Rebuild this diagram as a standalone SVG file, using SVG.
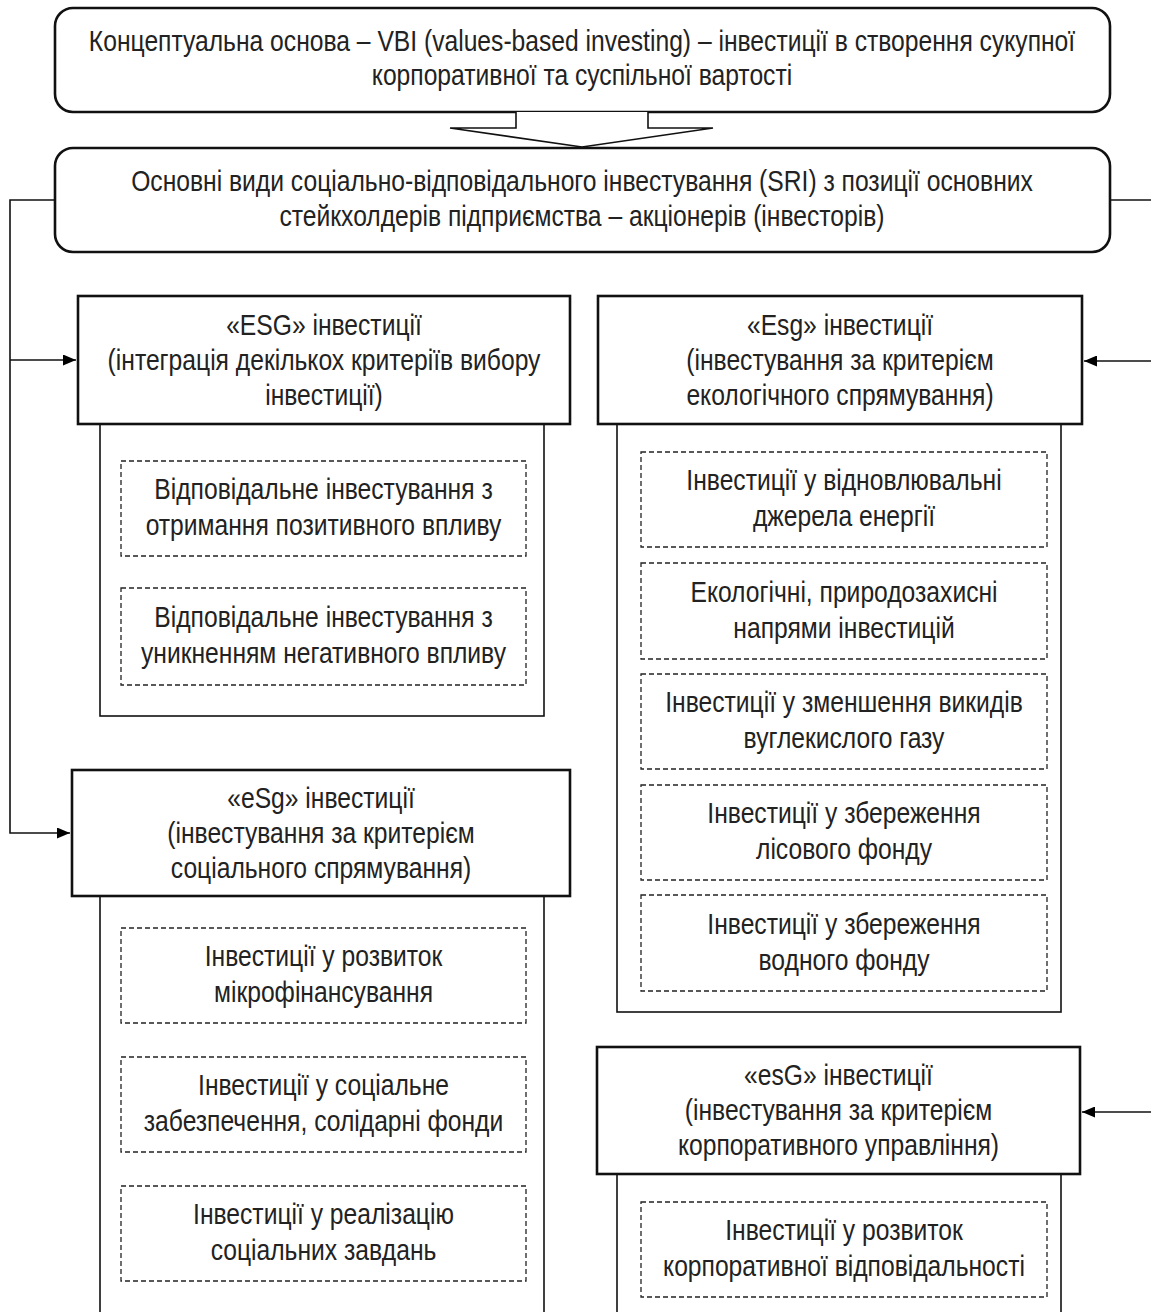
<svg xmlns="http://www.w3.org/2000/svg" width="1151" height="1312" viewBox="0 0 1151 1312">
<defs>
<style>
.rb{fill:#fff;stroke:#111;stroke-width:2.6}
.hb{fill:#fff;stroke:#111;stroke-width:2.6}
.ct{fill:#fff;stroke:#111;stroke-width:1.6}
.db{fill:none;stroke:#222;stroke-width:1.3;stroke-dasharray:5 3}
.ln{fill:none;stroke:#111;stroke-width:1.6}
text{font-family:"Liberation Sans",Arial,sans-serif;font-size:29px;fill:#222;text-anchor:middle}
</style>
<marker id="ah" viewBox="0 0 13 11" refX="13" refY="5.5" markerWidth="13" markerHeight="11" markerUnits="userSpaceOnUse" orient="auto">
<path d="M0,0 L13,5.5 L0,11 z" fill="#000"/>
</marker>
</defs>
<rect width="1151" height="1312" fill="#fff"/>

<g id="connectors">
<polyline class="ln" points="55,200 10,200 10,833 70,833" marker-end="url(#ah)"/>
<line class="ln" x1="10" y1="360" x2="76" y2="360" marker-end="url(#ah)"/>
<line class="ln" x1="1110" y1="200" x2="1151" y2="200"/>
<line class="ln" x1="1151" y1="361" x2="1084" y2="361" marker-end="url(#ah)"/>
<line class="ln" x1="1151" y1="1112" x2="1082" y2="1112" marker-end="url(#ah)"/>
</g>

<g id="vbi">
<rect class="rb" x="55" y="8" width="1055" height="104" rx="18"/>
<text transform="matrix(0.85 0 0 1 582 0)" x="0" y="51">Концептуальна основа – VBI (values-based investing) – інвестиції в створення сукупної</text>
<text transform="matrix(0.85 0 0 1 582 0)" x="0" y="85">корпоративної та суспільної вартості</text>
</g>

<g id="block-arrow">
<polygon points="516,112 516,128 450,128 582,147 713,128 648,128 648,112" fill="#fff" stroke="none"/>
<polyline points="516,112 516,128 450,128 582,147 713,128 648,128 648,112" fill="none" stroke="#111" stroke-width="1.6"/>
</g>

<g id="sri">
<rect class="rb" x="55" y="148" width="1055" height="104" rx="18"/>
<text transform="matrix(0.85 0 0 1 582 0)" x="0" y="191">Основні види соціально-відповідального інвестування (SRI) з позиції основних</text>
<text transform="matrix(0.85 0 0 1 582 0)" x="0" y="226">стейкхолдерів підприємства – акціонерів (інвесторів)</text>
</g>

<g id="esg-all">
<rect class="ct" x="100" y="424" width="444" height="292"/>
<rect class="hb" x="78" y="296" width="492" height="128"/>
<text transform="matrix(0.85 0 0 1 324 0)" x="0" y="335">«ESG» інвестиції</text>
<text transform="matrix(0.85 0 0 1 324 0)" x="0" y="370">(інтеграція декількох критеріїв вибору</text>
<text transform="matrix(0.85 0 0 1 324 0)" x="0" y="405">інвестиції)</text>
</g>
<g id="esg-1">
<rect class="db" x="121" y="461" width="405" height="95"/>
<text transform="matrix(0.85 0 0 1 323.5 0)" x="0" y="499">Відповідальне інвестування з</text>
<text transform="matrix(0.85 0 0 1 323.5 0)" x="0" y="535">отримання позитивного впливу</text>
</g>
<g id="esg-2">
<rect class="db" x="121" y="588" width="405" height="97"/>
<text transform="matrix(0.85 0 0 1 323.5 0)" x="0" y="627">Відповідальне інвестування з</text>
<text transform="matrix(0.85 0 0 1 323.5 0)" x="0" y="663">уникненням негативного впливу</text>
</g>

<g id="env">
<rect class="ct" x="617" y="424" width="444" height="588"/>
<rect class="hb" x="598" y="296" width="484" height="128"/>
<text transform="matrix(0.85 0 0 1 840 0)" x="0" y="335">«Esg» інвестиції</text>
<text transform="matrix(0.85 0 0 1 840 0)" x="0" y="370">(інвестування за критерієм</text>
<text transform="matrix(0.85 0 0 1 840 0)" x="0" y="405">екологічного спрямування)</text>
</g>
<g id="env-1">
<rect class="db" x="641" y="452" width="406" height="95"/>
<text transform="matrix(0.85 0 0 1 844 0)" x="0" y="490">Інвестиції у відновлювальні</text>
<text transform="matrix(0.85 0 0 1 844 0)" x="0" y="526">джерела енергії</text>
</g>
<g id="env-2">
<rect class="db" x="641" y="563" width="406" height="96"/>
<text transform="matrix(0.85 0 0 1 844 0)" x="0" y="602">Екологічні, природозахисні</text>
<text transform="matrix(0.85 0 0 1 844 0)" x="0" y="638">напрями інвестицій</text>
</g>
<g id="env-3">
<rect class="db" x="641" y="674" width="406" height="95"/>
<text transform="matrix(0.85 0 0 1 844 0)" x="0" y="712">Інвестиції у зменшення викидів</text>
<text transform="matrix(0.85 0 0 1 844 0)" x="0" y="748">вуглекислого газу</text>
</g>
<g id="env-4">
<rect class="db" x="641" y="785" width="406" height="95"/>
<text transform="matrix(0.85 0 0 1 844 0)" x="0" y="823">Інвестиції у збереження</text>
<text transform="matrix(0.85 0 0 1 844 0)" x="0" y="859">лісового фонду</text>
</g>
<g id="env-5">
<rect class="db" x="641" y="895" width="406" height="96"/>
<text transform="matrix(0.85 0 0 1 844 0)" x="0" y="934">Інвестиції у збереження</text>
<text transform="matrix(0.85 0 0 1 844 0)" x="0" y="970">водного фонду</text>
</g>

<g id="soc">
<rect class="ct" x="100" y="896" width="444" height="430"/>
<rect class="hb" x="72" y="770" width="498" height="126"/>
<text transform="matrix(0.85 0 0 1 321 0)" x="0" y="808">«eSg» інвестиції</text>
<text transform="matrix(0.85 0 0 1 321 0)" x="0" y="843">(інвестування за критерієм</text>
<text transform="matrix(0.85 0 0 1 321 0)" x="0" y="878">соціального спрямування)</text>
</g>
<g id="soc-1">
<rect class="db" x="121" y="928" width="405" height="95"/>
<text transform="matrix(0.85 0 0 1 323.5 0)" x="0" y="966">Інвестиції у розвиток</text>
<text transform="matrix(0.85 0 0 1 323.5 0)" x="0" y="1002">мікрофінансування</text>
</g>
<g id="soc-2">
<rect class="db" x="121" y="1057" width="405" height="95"/>
<text transform="matrix(0.85 0 0 1 323.5 0)" x="0" y="1095">Інвестиції у соціальне</text>
<text transform="matrix(0.85 0 0 1 323.5 0)" x="0" y="1131">забезпечення, солідарні фонди</text>
</g>
<g id="soc-3">
<rect class="db" x="121" y="1186" width="405" height="95"/>
<text transform="matrix(0.85 0 0 1 323.5 0)" x="0" y="1224">Інвестиції у реалізацію</text>
<text transform="matrix(0.85 0 0 1 323.5 0)" x="0" y="1260">соціальних завдань</text>
</g>

<g id="gov">
<rect class="ct" x="617" y="1174" width="444" height="160"/>
<rect class="hb" x="597" y="1047" width="483" height="127"/>
<text transform="matrix(0.85 0 0 1 838.5 0)" x="0" y="1085">«esG» інвестиції</text>
<text transform="matrix(0.85 0 0 1 838.5 0)" x="0" y="1120">(інвестування за критерієм</text>
<text transform="matrix(0.85 0 0 1 838.5 0)" x="0" y="1155">корпоративного управління)</text>
</g>
<g id="gov-1">
<rect class="db" x="641" y="1202" width="406" height="95"/>
<text transform="matrix(0.85 0 0 1 844 0)" x="0" y="1240">Інвестиції у розвиток</text>
<text transform="matrix(0.85 0 0 1 844 0)" x="0" y="1276">корпоративної відповідальності</text>
</g>
</svg>
